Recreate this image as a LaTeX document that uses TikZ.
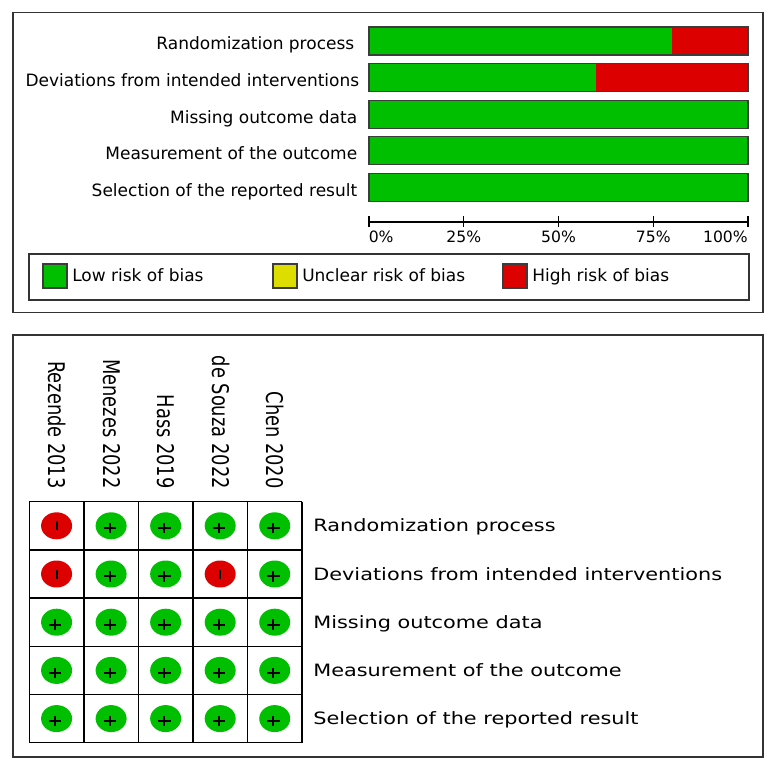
\documentclass[tikz,border=0pt]{standalone}
\usepackage{fontspec}
\setmainfont{DejaVu Sans}
\usetikzlibrary{shapes.geometric}
\definecolor{rbgreen}{RGB}{0,191,0}
\definecolor{rbred}{RGB}{221,0,0}
\definecolor{rbyellow}{RGB}{221,221,0}
\definecolor{rbframe}{RGB}{51,51,51}
\definecolor{rbedge}{RGB}{60,60,60}
\begin{document}
\begin{tikzpicture}[x=0.75pt,y=-0.75pt,
  font=\fontsize{12.75}{15}\selectfont,
  frame/.style={draw=rbframe,line width=1.1pt},
  baredge/.style={draw=rbedge,line width=0.8pt},
  swatch/.style={draw=rbedge,line width=0.8pt},
  toplbl/.style={anchor=base east,inner sep=0pt},
  ticklbl/.style={inner sep=0pt,font=\fontsize{11.7}{14}\selectfont},
  leglbl/.style={anchor=base west,inner sep=0pt},
  rowlbl/.style={anchor=base west,inner sep=0pt,xscale=1.225},
  collbl/.style={anchor=base east,inner sep=0pt,rotate=-90,xscale=1.05,yscale=1.35},
  gridline/.style={draw=black,line width=1.1pt},
  judg/.style={ellipse,inner sep=0pt,minimum width=23.25pt,minimum height=20.25pt},
  markline/.style={line width=1.5pt,draw=black}]
\useasboundingbox (0,0) rectangle (776,774);

% ---------------- top panel ----------------
\draw[frame] (13,12.7) rectangle (763,312.7);

\node[toplbl] (t1) at (354.5,50) {Randomization process};
\node[toplbl] (t2) at (359.5,86.6) {Deviations from intended interventions};
\node[toplbl] (t3) at (357.5,123.2) {Missing outcome data};
\node[toplbl] (t4) at (357.5,159.8) {Measurement of the outcome};
\node[toplbl] (t5) at (357.5,196.4) {Selection of the reported result};

% bars: centre y, green fraction
\foreach \yc/\fr in {41/0.8, 77.6/0.6, 114.2/1, 150.8/1, 187.4/1}{
  \pgfmathsetmacro\xg{369+379*\fr}
  \fill[rbgreen] (369,\yc-14) rectangle (\xg,\yc+14);
  \ifdim \fr pt<1pt
    \fill[rbred] (\xg,\yc-14) rectangle (748,\yc+14);
  \fi
  \draw[baredge] (369,\yc-14) rectangle (748,\yc+14);
}

% axis
\draw[line width=0.8pt] (369,222) -- (748,222);
\foreach \xt in {369,463.75,558.5,653.25,748}{
  \draw[line width=0.8pt] (\xt,216.5) -- (\xt,227);
}
\node[ticklbl,anchor=base west] (a0) at (368.5,242.3) {0\%};
\node[ticklbl,anchor=base] (a25) at (463.75,242.3) {25\%};
\node[ticklbl,anchor=base] (a50) at (558.5,242.3) {50\%};
\node[ticklbl,anchor=base] (a75) at (653.25,242.3) {75\%};
\node[ticklbl,anchor=base east] (a100) at (748,242.3) {100\%};

% legend
\draw[draw=rbframe,line width=0.8pt] (29,254) rectangle (749,300);
\draw[swatch,fill=rbgreen] (43,264) rectangle (67,288);
\node[leglbl] (l1) at (72,281.8) {Low risk of bias};
\draw[swatch,fill=rbyellow] (273,264) rectangle (297,288);
\node[leglbl] (l2) at (302,281.8) {Unclear risk of bias};
\draw[swatch,fill=rbred] (503,264) rectangle (527,288);
\node[leglbl] (l3) at (532,281.8) {High risk of bias};

% ---------------- bottom panel ----------------
\draw[frame] (13,335) rectangle (763,757);

% column labels
\foreach \c/\t in {1/Rezende 2013,2/Menezes 2022,3/Hass 2019,4/de Souza 2022,5/Chen 2020}{
  \pgfmathsetmacro\cx{29.3+54.54*(\c-0.5)}
  \node[collbl] (s\c) at (\cx-8,489) {\t};
}

% grid
\foreach \i in {0,...,5}{
  \pgfmathsetmacro\gx{29.3+54.54*\i}
  \pgfmathsetmacro\gy{501.7+48.2*\i}
  \draw[gridline] (\gx,501.7) -- (\gx,742.7);
  \draw[gridline] (29.3,\gy) -- (302,\gy);
}

% judgements
\foreach \c/\r/\col/\m in {1/1/rbred/m,2/1/rbgreen/p,3/1/rbgreen/p,4/1/rbgreen/p,5/1/rbgreen/p,
  1/2/rbred/m,2/2/rbgreen/p,3/2/rbgreen/p,4/2/rbred/m,5/2/rbgreen/p,
  1/3/rbgreen/p,2/3/rbgreen/p,3/3/rbgreen/p,4/3/rbgreen/p,5/3/rbgreen/p,
  1/4/rbgreen/p,2/4/rbgreen/p,3/4/rbgreen/p,4/4/rbgreen/p,5/4/rbgreen/p,
  1/5/rbgreen/p,2/5/rbgreen/p,3/5/rbgreen/p,4/5/rbgreen/p,5/5/rbgreen/p}{
  \pgfmathsetmacro\cx{29.3+54.54*(\c-0.5)}
  \pgfmathsetmacro\cy{501.7+48.2*(\r-0.5)}
  \node[judg,fill=\col] (j\c\r) at (\cx,\cy) {};
  \if\m m
    \fill[black] (\cx-1,\cy-4.5) rectangle (\cx+1,\cy+4.5);
  \else
    \draw[markline] (\cx-7.5,\cy+2.3) -- (\cx+4.9,\cy+2.3);
    \draw[markline] (\cx-1.3,\cy-2.9) -- (\cx-1.3,\cy+7.5);
  \fi
}

% row labels
\node[rowlbl] (r1) at (313,531.8) {Randomization process};
\node[rowlbl] (r2) at (313,580) {Deviations from intended interventions};
\node[rowlbl] (r3) at (313,628.2) {Missing outcome data};
\node[rowlbl] (r4) at (313,676.4) {Measurement of the outcome};
\node[rowlbl] (r5) at (313,724.6) {Selection of the reported result};
\end{tikzpicture}
\end{document}
